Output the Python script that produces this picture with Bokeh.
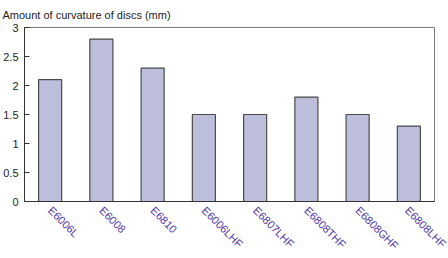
import math
from bokeh.plotting import figure
from bokeh.models import ColumnDataSource, Title, FixedTicker
from bokeh.embed import file_html
from bokeh.resources import INLINE

categories = ["E6006L", "E6008", "E6810", "E6006LHF", "E6807LHF", "E6808THF", "E6808GHF", "E6808LHF"]
values = [2.1, 2.8, 2.3, 1.5, 1.5, 1.8, 1.5, 1.3]
y_ticks = [0, 0.5, 1, 1.5, 2, 2.5, 3]
title_text = "Amount of curvature of discs (mm)"

src = ColumnDataSource(dict(cat=categories, val=values))

p = figure(x_range=categories, y_range=(0, 3), width=448, height=258,
           output_backend="svg", toolbar_location=None,
           min_border_left=2, min_border_right=14, min_border_top=0, min_border_bottom=0)

p.vbar(x="cat", top="val", width=0.45, source=src,
       fill_color="#BDBDDC", line_color="#4a4a4a", line_width=1.2)

p.add_layout(Title(text=title_text, align="left", offset=-22, text_font="Liberation Sans",
                   text_font_size="11px", text_font_style="normal", text_color="#222222",
                   standoff=13), "above")

p.xgrid.visible = False
p.ygrid.visible = False
p.outline_line_color = "#777777"
p.outline_line_width = 1
p.background_fill_color = "white"
p.border_fill_color = "white"

p.yaxis.ticker = FixedTicker(ticks=y_ticks)
p.yaxis.major_tick_in = 5
p.yaxis.major_tick_out = 0
p.yaxis.minor_tick_line_color = None
p.yaxis.axis_line_color = "#333333"
p.yaxis.major_tick_line_color = "#333333"
p.yaxis.major_label_text_font = "Liberation Sans"
p.yaxis.major_label_text_font_size = "11px"
p.yaxis.major_label_text_color = "#222222"
p.yaxis.major_label_standoff = 6

p.xaxis.major_tick_line_color = None
p.xaxis.major_tick_in = 0
p.xaxis.major_tick_out = 0
p.xaxis.minor_tick_line_color = None
p.xaxis.axis_line_color = "#333333"
p.xaxis.major_label_orientation = -math.pi / 4
p.xaxis.major_label_text_font = "Liberation Sans"
p.xaxis.major_label_text_font_size = "11px"
p.xaxis.major_label_text_color = "#4F35A8"
p.xaxis.major_label_standoff = 7

p.x_range.range_padding = 0

open("out.html", "w").write(file_html(p, INLINE))
